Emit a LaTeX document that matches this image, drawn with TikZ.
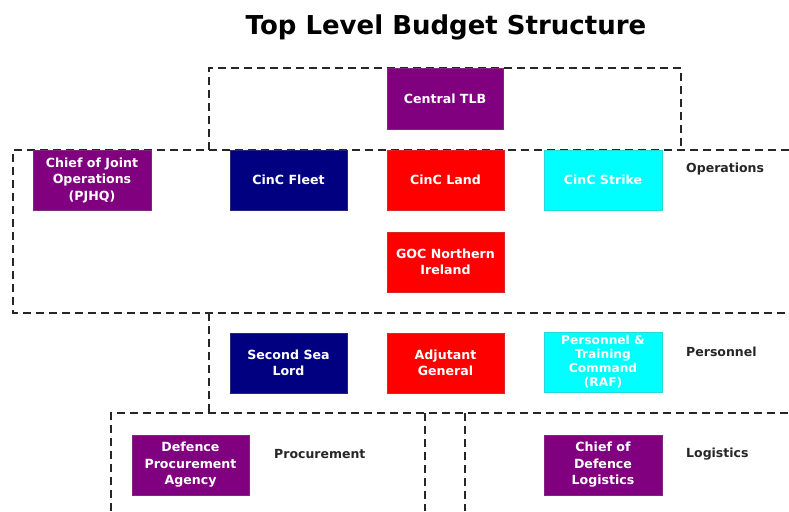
\documentclass[tikz,border=0pt]{standalone}
\usepackage{fontspec}
\setmainfont{DejaVu Sans}
\definecolor{tlbpurple}{HTML}{800080}
\definecolor{tlbnavy}{HTML}{000080}
\definecolor{tlbred}{HTML}{FF0000}
\definecolor{tlbcyan}{HTML}{00FFFF}
\begin{document}
\begin{tikzpicture}[x=1pt,y=-1pt,
  unit/.style={rectangle, inner sep=0pt, text=white, align=center,
    font=\bfseries\fontsize{12.6}{16.5}\selectfont, draw=#1!70!gray, fill=#1,
    line width=0.4pt},
  area/.style={draw=black!85, line width=1.6pt, dash pattern=on 8pt off 5pt},
  arealabel/.style={anchor=west, inner sep=0pt, text=black!85,
    font=\bfseries\fontsize{12.5}{15}\selectfont},
  heading/.style={inner sep=0pt, font=\bfseries\fontsize{26}{30}\selectfont}]
\useasboundingbox (0,0) rectangle (789,511);

% title
\node[heading] (title) at (446,27) {Top Level Budget Structure};

% dashed group outlines
\draw[area] (209,150) -- (209,68) -- (681,68) -- (681,150);
\draw[area] (789,150) -- (13,150) -- (13,313) -- (789,313);
\draw[area] (209,313) -- (209,413);
\draw[area] (111,511) -- (111,413) -- (789,413);
\draw[area] (425,413) -- (425,511);
\draw[area] (465,413) -- (465,511);

% budget holders
\node[unit=tlbpurple, minimum width=116pt, minimum height=61pt] (central) at (445,98.5) {Central TLB};
\node[unit=tlbpurple, minimum width=118pt, minimum height=60pt] (pjhq) at (92,180) {Chief of Joint\\Operations\\(PJHQ)};
\node[unit=tlbnavy, minimum width=117pt, minimum height=60pt] (fleet) at (288.5,180) {CinC Fleet};
\node[unit=tlbred, minimum width=117pt, minimum height=60pt] (land) at (445.5,180) {CinC Land};
\node[unit=tlbcyan, minimum width=118pt, minimum height=60pt] (strike) at (603,180) {CinC Strike};
\node[unit=tlbred, minimum width=117pt, minimum height=60pt] (goc) at (445.5,262) {GOC Northern\\Ireland};
\node[unit=tlbnavy, minimum width=117pt, minimum height=60pt] (seclord) at (288.5,363) {Second Sea\\Lord};
\node[unit=tlbred, minimum width=117pt, minimum height=60pt] (adjgen) at (445.5,363) {Adjutant\\General};
\node[unit=tlbcyan, minimum width=118pt, minimum height=60pt,
  font=\bfseries\fontsize{12.2}{14}\selectfont] (ptc) at (603,362) {Personnel \&\\Training\\Command\\(RAF)};
\node[unit=tlbpurple, minimum width=117pt, minimum height=60pt] (dpa) at (190.5,465) {Defence\\Procurement\\Agency};
\node[unit=tlbpurple, minimum width=118pt, minimum height=60pt] (cdl) at (603,465) {Chief of\\Defence\\Logistics};

% area names
\node[arealabel] (ops) at (686,169) {Operations};
\node[arealabel] (pers) at (686,352) {Personnel};
\node[arealabel] (proc) at (274,454) {Procurement};
\node[arealabel] (logs) at (686,454) {Logistics};
\end{tikzpicture}
\end{document}
